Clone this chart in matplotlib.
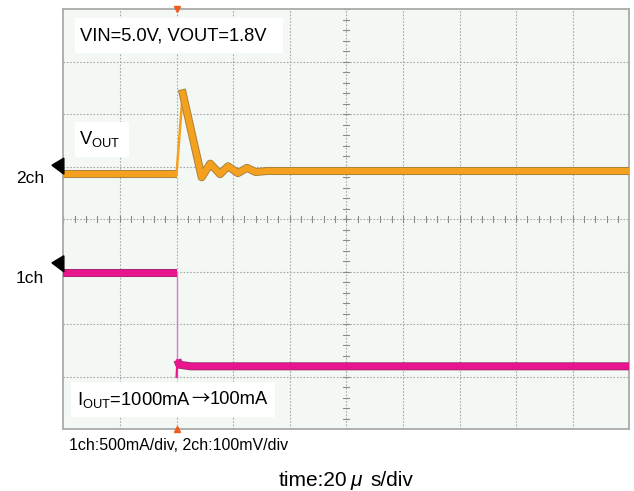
import numpy as np
import matplotlib
matplotlib.use('Agg')
import matplotlib.pyplot as plt
from matplotlib.patches import Rectangle, Polygon
import matplotlib.patheffects as pe

plt.rcParams['font.family'] = ['Liberation Sans', 'DejaVu Sans']
plt.rcParams['mathtext.fontset'] = 'custom'
plt.rcParams['mathtext.rm'] = 'Liberation Sans'
plt.rcParams['mathtext.it'] = 'Liberation Sans:italic'

# ---------------- data ----------------
# 2ch : VOUT (V), 100 mV/div
vout_time_us = [0, 40.0, 42.2, 48.9, 51.9, 55.4, 58.2, 61.7, 64.9, 68.0, 72.0, 200]
vout_v = [1.800, 1.800, 1.954, 1.794, 1.820, 1.800, 1.815, 1.802, 1.812, 1.804, 1.806, 1.806]
# 1ch : IOUT (mA), 500 mA/div
iout_time_us = [0, 40.0, 40.0, 40.3, 41.0, 45.0, 200]
iout_ma = [1000, 1000, 15, 175, 130, 115, 115]

time_per_div = 20.0      # us/div
v_per_div = 0.1          # V/div
i_per_div = 500.0        # mA/div
ch2_ref_v = 1.8
ch2_ref_div = 4.86
ch1_zero_div = 0.97
n_xdiv, n_ydiv = 10, 8
trigger_us = 40.0

title_text = "VIN=5.0V, VOUT=1.8V"
vout_label = r"V$_{\mathrm{OUT}}$"
iout_parts = [r"I$_{\mathrm{OUT}}$=1000mA", "→", "100mA"]
scale_text = "1ch:500mA/div, 2ch:100mV/div"
time_parts = ["time:20", "μ", "s/div"]

# ---------------- figure ----------------
W, H = 634, 491
fig = plt.figure(figsize=(W / 100, H / 100), dpi=100)
L, R, T, B = 63.3, 629.3, 9.3, 429.3
ax = fig.add_axes([L / W, 1 - B / H, (R - L) / W, (B - T) / H])
ax.set_xlim(0, n_xdiv)
ax.set_ylim(0, n_ydiv)
ax.set_facecolor('#f4f8f4')
for s in ax.spines.values():
    s.set_color('#a9aaa9')
    s.set_linewidth(1.3)
ax.set_xticks([])
ax.set_yticks([])

grid_kw = dict(color='#a8a8a8', lw=0.8, ls=(0, (1.5, 1.5)), zorder=1)
for k in range(1, n_xdiv):
    ax.axvline(k, **grid_kw)
for k in range(1, n_ydiv):
    ax.axhline(k, **grid_kw)
# minor ticks on center lines
for x in np.arange(0, n_xdiv + 0.01, 0.2):
    ax.plot([x, x], [n_ydiv / 2 - 0.06, n_ydiv / 2 + 0.06], color='#8a8a8a', lw=0.8, zorder=1)
for y in np.arange(0, n_ydiv + 0.01, 0.2):
    ax.plot([n_xdiv / 2 - 0.05, n_xdiv / 2 + 0.05], [y, y], color='#8a8a8a', lw=0.8, zorder=1)

# ---------------- traces ----------------
vx = np.array(vout_time_us) / time_per_div
vy = ch2_ref_div + (np.array(vout_v) - ch2_ref_v) / v_per_div
ix = np.array(iout_time_us) / time_per_div
iy = ch1_zero_div + np.array(iout_ma) / i_per_div

orange = '#f5a01e'
magenta = '#e8158f'
edge_o = [pe.Stroke(linewidth=5.8, foreground='#a8843e'), pe.Normal()]
edge_m = [pe.Stroke(linewidth=5.8, foreground='#a02a70'), pe.Normal()]

# VOUT: flat part, fast rising edge (thin), and ringing part
ax.plot(vx[:2], vy[:2], color=orange, lw=4.4, solid_capstyle='butt', path_effects=edge_o, zorder=3)
ax.plot(vx[1:3], vy[1:3], color=orange, lw=1.8, zorder=3)
ax.plot(vx[2:], vy[2:], color=orange, lw=4.4, solid_joinstyle='round', path_effects=edge_o, zorder=3)

# IOUT: before step, step edge (thin), after
ax.plot(ix[:2], iy[:2], color=magenta, lw=4.6, solid_capstyle='butt', path_effects=edge_m, zorder=3)
ax.plot(ix[1:3], iy[1:3], color='#d27fc8', lw=1.0, zorder=2)
ax.plot(ix[3:], iy[3:], color=magenta, lw=4.6, solid_capstyle='butt', path_effects=edge_m, zorder=3)
ax.plot(ix[2:4], iy[2:4], color=magenta, lw=1.5, zorder=3)

# trigger markers
tx = trigger_us / time_per_div
ax.plot([tx], [n_ydiv], marker='v', color='#f05a1a', ms=5, clip_on=False, zorder=5)
ax.plot([tx], [0], marker='^', color='#f05a1a', ms=5, clip_on=False, zorder=5)

# channel markers (black triangles left of screen)
def chan_marker(y_tip):
    pts = [(-0.20, y_tip), (0.01, y_tip + 0.135), (0.01, y_tip - 0.17)]
    ax.add_patch(Polygon(pts, closed=True, color='black', clip_on=False, zorder=6))

chan_marker(ch2_ref_div + 0.17)
chan_marker(ch1_zero_div + 1000 / i_per_div + 0.2)

ax.text(-0.34, ch2_ref_div - 0.08, "2ch", ha='right', va='center', fontsize=12.5, clip_on=False)
ax.text(-0.34, ch1_zero_div + 1000 / i_per_div - 0.1, "1ch", ha='right', va='center', fontsize=12.5, clip_on=False)

# ---------------- labels ----------------
def px2d(px, py):
    return (px - L) / (R - L) * n_xdiv, n_ydiv - (py - T) / (B - T) * n_ydiv

def box(x0, y0, x1, y1):
    a = px2d(x0, y1)
    b = px2d(x1, y0)
    ax.add_patch(Rectangle(a, b[0] - a[0], b[1] - a[1], facecolor='white', edgecolor='none', zorder=4))

box(75, 18, 283, 53)
box(75, 122, 129, 157)
box(71, 382, 275, 417)

p = px2d(80, 35.5)
ax.text(p[0], p[1], title_text, fontsize=13.2, ha='left', va='center', zorder=5)
p = px2d(79, 139)
ax.text(p[0], p[1], vout_label, fontsize=13.2, ha='left', va='center', zorder=5)

renderer = fig.canvas.get_renderer()

# IOUT label built from pieces (long arrow from CJK font)
x_px = 77.0
base_py = 404.5
fams = [['Liberation Sans'], ['Noto Sans CJK JP', 'DejaVu Sans'], ['Liberation Sans']]
for txt, fam in zip(iout_parts, fams):
    t = fig.text(x_px / W, 1 - base_py / H, txt, fontsize=13.2, family=fam,
                 ha='left', va='baseline', zorder=5)
    bb = t.get_window_extent(renderer)
    x_px = bb.x1

fig.text(69 / W, 1 - 446 / H, scale_text, fontsize=11.5, ha='left', va='center')

# time label: "time:20", italic mu, "s/div"
ty = 1 - 486.5 / H
fig.text(279 / W, ty, time_parts[0], fontsize=15, ha='left', va='baseline')
fig.text(350 / W, ty, time_parts[1], fontsize=15, ha='left', va='baseline', style='italic')
fig.text(370 / W, ty, time_parts[2], fontsize=15, ha='left', va='baseline')

fig.savefig('out.png', dpi=100, facecolor='white')
